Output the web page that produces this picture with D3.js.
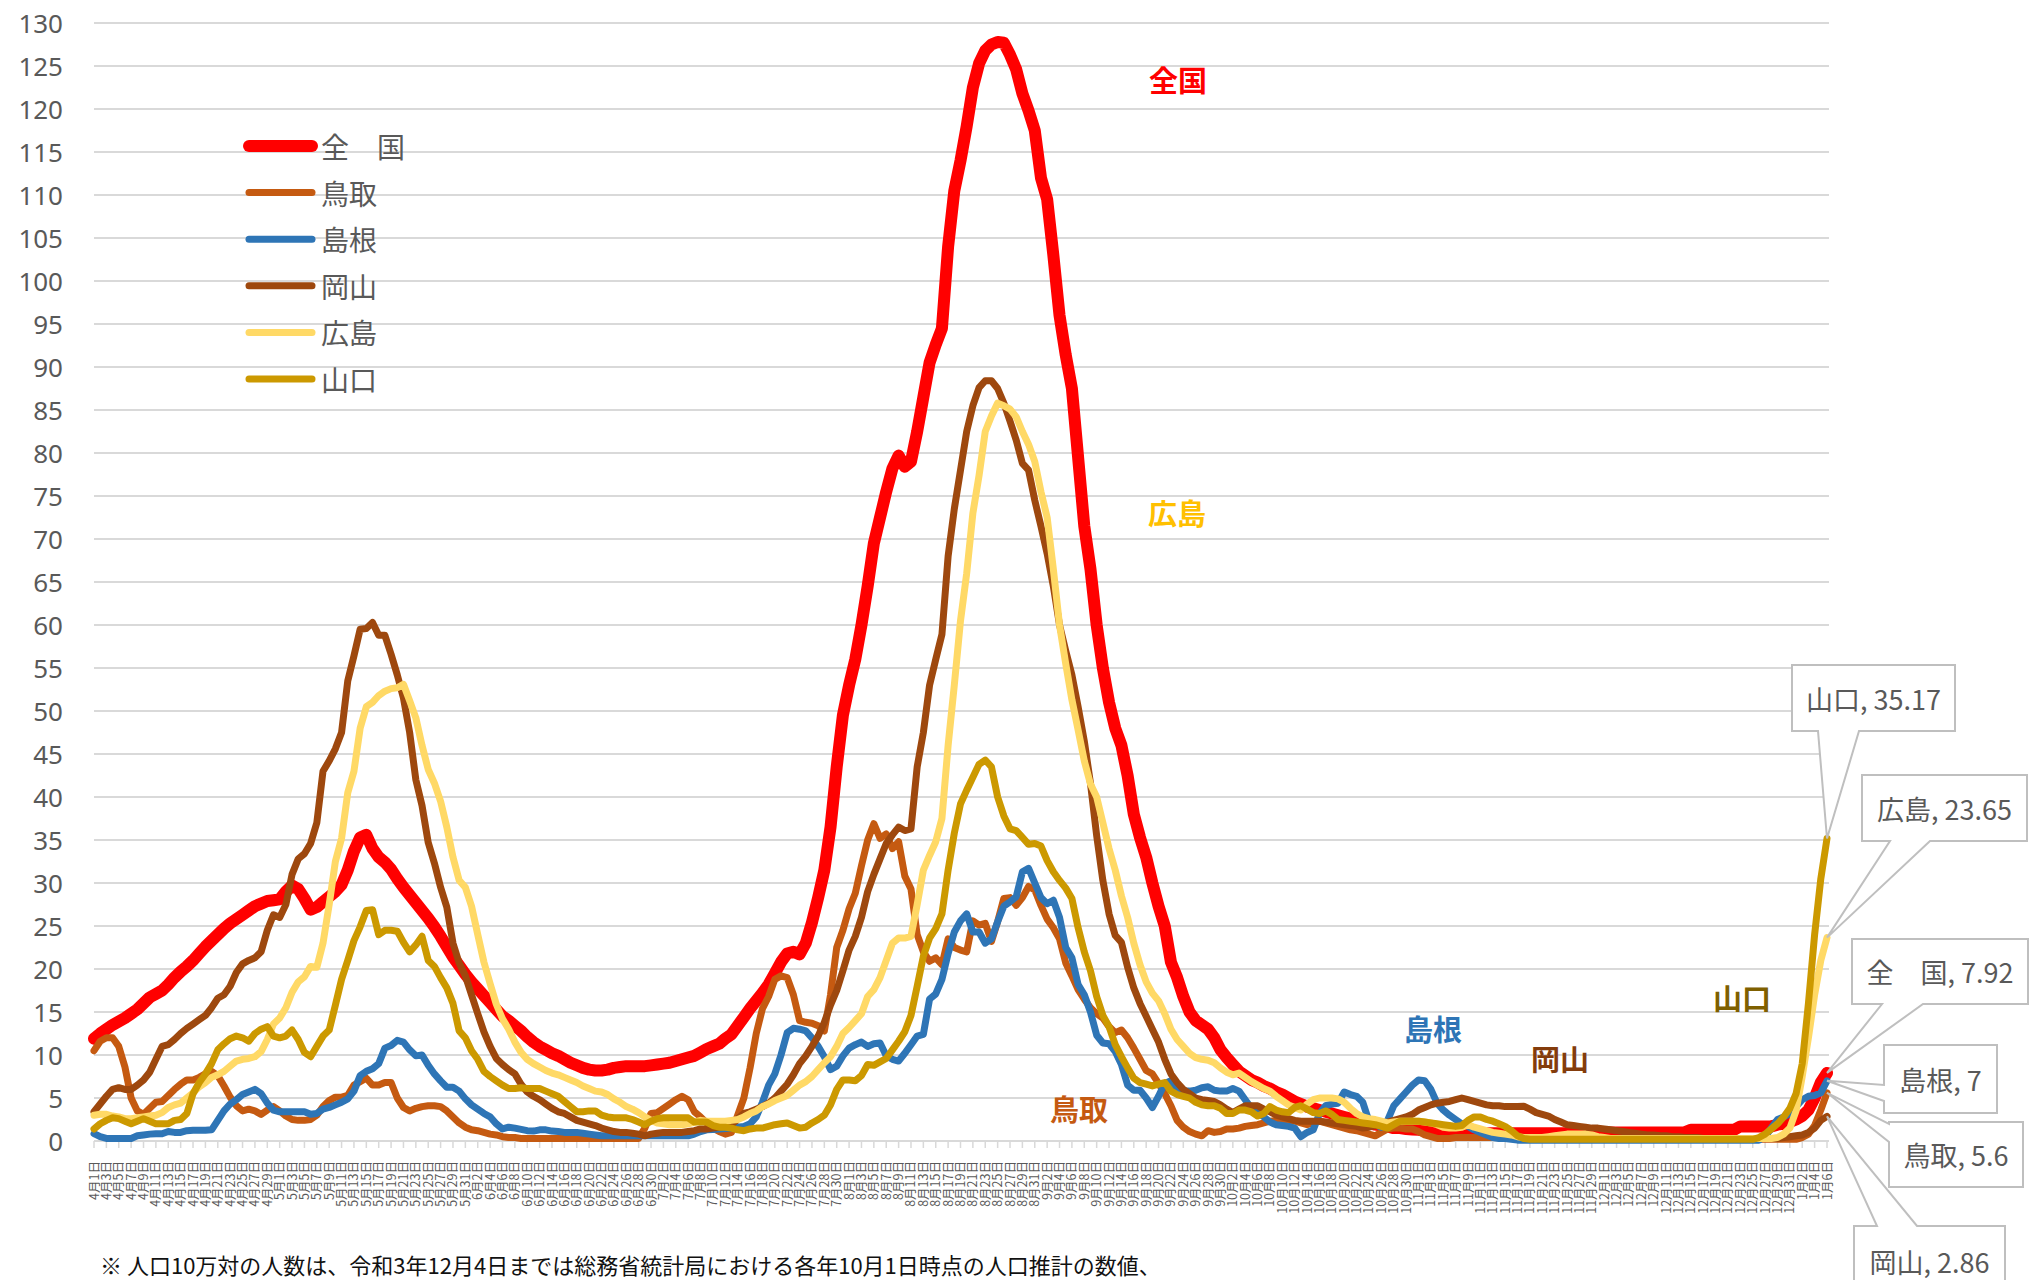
<!DOCTYPE html>
<html><head><meta charset="utf-8">
<script src="https://cdn.jsdelivr.net/npm/d3@7"></script>
<style>body{margin:0;background:#fff;} svg{display:block;}</style>
</head><body>
<svg id="c" width="2036" height="1280"></svg>
<script>
// ---------- data ----------
const months = [4,5,6,7,8,9,10,11,12,1];
const monthDays = [30,31,30,31,31,30,31,30,31,6];
const categories = [];
months.forEach((m,i)=>{ for(let d=1; d<=monthDays[i]; d++) categories.push(m+"月"+d+"日"); });

const yTicks = [0,5,10,15,20,25,30,35,40,45,50,55,60,65,70,75,80,85,90,95,100,105,110,115,120,125,130];

const zenkoku = [
11.9,12.5,13.0,13.5,13.9,14.3,14.8,15.3,16.0,16.7,
17.1,17.5,18.2,19.0,19.7,20.3,21.0,21.8,22.6,23.3,
24.0,24.7,25.3,25.8,26.3,26.8,27.3,27.6,27.9,28.0,
28.1,29.0,29.7,29.3,28.2,26.9,27.2,27.8,28.4,29.0,
29.8,31.5,33.7,35.3,35.6,34.0,33.0,32.4,31.6,30.5,
29.5,28.6,27.7,26.8,25.9,24.9,23.8,22.6,21.4,20.4,
19.4,18.5,17.7,16.9,16.1,15.3,14.5,14.0,13.4,12.8,
12.1,11.5,11.0,10.6,10.2,9.9,9.5,9.1,8.8,8.5,
8.3,8.2,8.2,8.3,8.5,8.6,8.7,8.7,8.7,8.7,
8.8,8.9,9.0,9.1,9.3,9.5,9.7,9.9,10.3,10.7,
11.0,11.3,11.9,12.4,13.4,14.4,15.4,16.3,17.2,18.2,
19.5,20.8,21.8,22.0,21.7,23.0,25.4,28.3,31.5,36.5,
43.5,49.5,53.0,56.0,60.0,64.5,69.5,72.5,75.5,78.2,
79.7,78.4,79.0,82.5,86.5,90.5,92.6,94.5,104.0,110.5,
114.0,118.0,122.5,125.3,126.8,127.5,127.8,127.7,126.3,124.6,
121.8,119.8,117.5,112.0,109.5,103.0,96.0,91.4,87.5,79.5,
71.5,66.5,60.0,55.0,51.0,48.0,46.0,42.5,38.0,35.3,
33.0,30.0,27.3,25.0,20.8,19.0,16.8,15.0,14.0,13.5,
13.0,12.0,10.6,9.7,8.9,8.1,7.6,7.1,6.8,6.4,
6.1,5.7,5.4,5.0,4.6,4.3,4.0,3.8,3.6,3.4,
3.2,3.0,2.8,2.6,2.4,2.2,2.1,1.9,1.8,1.7,
1.5,1.5,1.4,1.35,1.3,1.2,1.1,1.0,1.0,1.0,
0.9,0.9,0.9,0.9,0.9,0.9,0.9,0.9,0.9,0.9,
0.9,0.9,0.9,0.9,0.9,0.9,0.9,0.9,0.9,0.9,
0.9,0.9,0.9,0.9,1.0,1.0,1.0,1.0,1.0,1.0,
1.0,1.0,1.0,1.0,1.0,1.0,1.0,1.0,1.3,1.3,
1.3,1.3,1.3,1.3,1.3,1.3,1.7,1.7,1.7,1.7,
1.7,1.7,1.9,2.0,2.2,2.5,2.9,3.6,5.0,6.8,
7.92];

const tottori = [
10.5,11.6,12.0,12.0,11.0,8.6,5.0,3.5,3.1,3.8,
4.5,4.6,5.3,6.0,6.6,7.1,7.1,7.4,7.8,8.1,
7.6,6.4,5.1,4.1,3.5,3.7,3.5,3.1,3.6,4.0,
3.5,2.9,2.5,2.4,2.4,2.5,3.0,4.0,4.7,5.1,
5.1,5.3,6.5,6.9,7.3,6.5,6.5,6.8,6.8,5.0,
3.9,3.5,3.8,4.0,4.1,4.1,4.0,3.5,2.8,2.1,
1.6,1.3,1.2,1.0,0.8,0.7,0.5,0.4,0.4,0.3,
0.3,0.3,0.3,0.3,0.3,0.3,0.3,0.3,0.3,0.3,
0.3,0.3,0.3,0.3,0.3,0.3,0.3,0.3,0.3,1.5,
3.2,3.3,3.8,4.3,4.8,5.2,4.8,3.4,2.8,2.1,
1.5,1.1,0.8,1.0,3.0,5.0,8.5,12.5,15.4,16.8,
18.8,19.2,19.0,17.0,14.0,13.8,13.7,13.4,12.8,17.0,
22.5,24.5,27.0,28.8,32.0,35.0,36.9,35.2,35.7,34.0,
34.8,30.8,29.3,24.0,22.0,20.9,21.3,20.5,23.5,22.5,
22.2,22.0,25.6,25.1,25.3,23.2,25.5,28.2,28.3,27.4,
28.3,29.6,29.2,27.4,25.8,24.8,23.5,20.7,19.2,17.6,
16.5,15.5,14.8,14.3,13.3,12.6,12.9,12.0,10.8,9.5,
8.2,7.8,6.7,5.5,4.1,2.4,1.6,1.1,0.8,0.6,
1.2,1.0,1.1,1.4,1.4,1.5,1.7,1.8,1.9,2.1,
2.3,2.4,2.5,2.4,2.3,2.1,1.9,2.1,2.3,2.1,
1.9,1.7,1.5,1.3,1.2,1.0,0.8,0.6,1.0,1.4,
1.5,1.5,1.4,1.4,1.1,0.7,0.5,0.3,0.3,0.3,
0.4,0.4,0.4,0.4,0.4,0.4,0.4,0.4,0.4,0.4,
0.2,0.2,0.2,0.2,0.2,0.2,0.2,0.2,0.2,0.2,
0.2,0.2,0.2,0.2,0.2,0.2,0.2,0.2,0.2,0.2,
0.2,0.2,0.2,0.2,0.2,0.2,0.2,0.2,0.2,0.2,
0.2,0.2,0.2,0.2,0.2,0.2,0.2,0.2,0.2,0.2,
0.2,0.2,0.2,0.2,0.2,0.2,0.4,0.8,1.8,3.6,
5.6];

const shimane = [
0.85,0.5,0.3,0.3,0.3,0.3,0.3,0.6,0.7,0.8,
0.85,0.85,1.1,1.0,1.0,1.2,1.25,1.25,1.25,1.3,
2.4,3.5,4.3,4.8,5.4,5.7,6.0,5.5,4.4,3.6,
3.4,3.4,3.4,3.4,3.4,3.1,3.2,3.7,3.9,4.2,
4.5,4.9,5.8,7.6,8.1,8.4,9.0,10.8,11.1,11.7,
11.5,10.6,9.9,10.0,8.8,7.8,7.0,6.25,6.25,5.8,
4.9,4.2,3.7,3.2,2.8,2.0,1.4,1.6,1.5,1.35,
1.2,1.15,1.3,1.3,1.15,1.1,1.0,1.0,1.0,0.9,
0.8,0.7,0.6,0.6,0.6,0.6,0.6,0.6,0.6,0.6,
0.6,0.6,0.6,0.6,0.6,0.6,0.6,0.8,1.1,1.3,
1.35,1.4,1.45,1.5,1.6,1.7,2.0,2.8,4.5,6.5,
7.8,10.0,12.6,13.1,13.0,12.8,12.0,11.0,9.8,8.3,
8.7,9.9,10.8,11.2,11.5,11.0,11.3,11.4,9.9,9.5,
9.3,10.2,11.2,12.2,12.4,16.5,17.1,18.8,21.8,24.3,
25.6,26.4,24.3,24.3,23.0,23.5,25.5,27.3,27.8,28.4,
31.3,31.7,30.0,28.3,27.6,28.0,26.0,22.5,21.3,18.2,
17.0,15.0,12.3,11.4,11.3,10.4,8.9,6.5,5.9,5.9,
5.0,3.9,5.2,6.7,7.0,6.1,5.8,5.8,5.9,6.2,
6.3,5.9,5.8,5.8,6.1,5.8,4.8,3.8,3.3,2.8,
2.2,1.9,1.8,1.7,1.5,0.5,1.0,1.3,3.2,4.1,
4.3,4.4,5.7,5.4,5.2,4.5,2.3,1.9,1.6,2.4,
4.1,4.9,5.7,6.5,7.1,7.0,6.0,4.4,3.6,3.0,
2.5,2.0,1.7,1.3,1.0,0.7,0.4,0.3,0.3,0.2,
0.1,0.1,0.1,0.1,0.1,0.1,0.1,0.1,0.1,0.1,
0.1,0.1,0.1,0.1,0.1,0.1,0.1,0.1,0.1,0.1,
0.1,0.1,0.1,0.1,0.1,0.1,0.1,0.1,0.1,0.1,
0.1,0.1,0.1,0.1,0.1,0.1,0.1,0.1,0.1,0.1,
0.5,1.5,2.5,2.8,3.2,4.0,4.8,5.2,5.3,5.6,
7];

const okayama = [
3.4,4.3,5.2,6.0,6.2,6.0,6.0,6.5,7.1,8.0,
9.5,11.0,11.2,11.8,12.5,13.1,13.6,14.1,14.6,15.5,
16.6,17.0,18.0,19.6,20.6,21.0,21.3,22.0,24.5,26.3,
26.0,27.5,31.0,32.8,33.4,34.6,37.0,43.0,44.2,45.6,
47.5,53.5,56.4,59.5,59.6,60.3,58.8,58.8,56.6,54.2,
51.5,47.5,42.0,39.0,34.7,32.3,29.5,27.2,23.0,20.7,
19.2,17.0,14.8,12.7,11.0,9.6,8.9,8.3,7.8,6.6,
5.7,5.2,4.8,4.3,3.8,3.4,3.2,2.8,2.4,2.2,
2.0,1.8,1.5,1.3,1.1,1.0,1.0,0.9,0.8,0.6,
0.8,0.9,1.0,1.0,1.0,1.0,1.1,1.2,1.4,1.4,
1.5,1.6,1.7,1.9,2.6,3.2,3.4,3.7,4.0,4.4,
5.0,5.8,6.6,7.7,9.0,9.9,11.0,12.2,13.8,15.8,
17.5,19.8,22.2,23.8,26.0,29.0,31.0,32.8,34.6,35.6,
36.5,36.1,36.3,43.5,47.5,53.0,56.0,58.9,68.0,73.5,
78.0,82.5,85.5,87.6,88.4,88.4,87.5,85.8,83.7,81.5,
78.8,78.0,74.5,71.5,68.3,64.5,60.0,57.0,54.2,50.5,
46.5,41.6,35.5,30.3,26.4,23.9,23.1,20.2,17.8,16.0,
14.5,13.0,11.5,9.5,7.8,6.8,6.0,5.5,5.0,4.8,
4.7,4.6,4.2,3.7,3.3,3.7,4.1,4.1,4.1,3.7,
3.4,3.0,2.8,2.6,2.4,2.3,2.3,2.3,2.3,2.2,
2.1,2.0,1.9,1.8,1.7,1.5,1.6,1.8,1.9,2.2,
2.4,2.6,2.8,3.1,3.6,3.9,4.2,4.4,4.5,4.6,
4.8,5.0,4.8,4.6,4.4,4.2,4.1,4.1,4.0,4.0,
4.0,4.05,3.7,3.3,3.1,2.9,2.5,2.2,1.9,1.8,
1.7,1.6,1.5,1.5,1.4,1.3,1.2,1.1,1.0,0.9,
0.8,0.7,0.7,0.6,0.6,0.5,0.5,0.4,0.4,0.4,
0.3,0.3,0.3,0.3,0.3,0.3,0.3,0.3,0.3,0.3,
0.3,0.3,0.3,0.4,0.5,0.6,0.7,1.0,1.5,2.4,
2.86];

const hiroshima = [
3.0,3.1,3.1,2.9,2.8,2.6,2.6,2.7,2.8,2.9,
3.0,3.3,3.9,4.2,4.4,5.0,5.6,6.3,6.8,7.4,
7.7,8.1,8.7,9.3,9.5,9.6,9.8,10.4,11.8,13.6,
14.3,15.5,17.3,18.5,19.1,20.3,20.2,23.0,27.5,32.5,
35.2,40.5,43.0,48.0,50.5,51.0,51.8,52.3,52.6,52.7,
53.1,51.2,49.2,46.0,43.2,41.6,39.5,36.5,33.0,30.3,
29.5,27.3,24.0,20.8,18.3,15.9,14.2,13.0,11.5,10.3,
9.5,9.0,8.6,8.2,7.9,7.7,7.4,7.1,6.8,6.4,
6.1,5.8,5.7,5.4,4.9,4.5,4.0,3.7,3.3,2.8,
2.4,2.1,2.0,1.9,1.9,1.9,2.0,2.2,2.4,2.3,
2.3,2.3,2.3,2.4,2.5,2.8,3.2,3.5,4.0,4.3,
4.7,5.0,5.3,5.9,6.5,6.9,7.5,8.3,9.1,9.8,
11.0,12.5,13.2,14.0,14.8,16.8,17.6,19.0,21.0,23.0,
23.6,23.6,23.8,27.5,31.5,33.2,34.8,37.5,46.0,53.0,
60.5,66.0,73.0,77.4,82.5,84.3,85.8,85.5,85.1,84.2,
82.5,81.0,79.0,75.5,72.5,66.5,60.0,55.5,51.3,47.8,
44.2,41.5,40.0,37.0,34.0,31.5,28.5,26.0,23.0,20.5,
18.5,17.2,16.3,14.8,13.0,11.8,11.0,10.2,9.7,9.5,
9.4,9.1,8.5,8.0,7.7,7.9,7.4,6.9,6.5,6.1,
5.8,5.2,4.7,4.2,3.9,3.6,4.3,4.8,5.0,5.0,
5.0,4.9,4.5,3.8,3.2,2.8,2.6,2.5,2.3,2.1,
2.2,2.3,2.3,2.3,2.3,2.2,2.1,1.9,1.6,1.5,
1.5,1.6,1.9,1.6,1.4,1.2,1.0,0.9,0.8,0.7,
0.5,0.4,0.4,0.4,0.4,0.5,0.6,0.7,0.8,0.8,
0.8,0.8,0.7,0.5,0.4,0.3,0.3,0.3,0.3,0.3,
0.3,0.3,0.3,0.3,0.3,0.3,0.3,0.3,0.3,0.3,
0.3,0.3,0.3,0.3,0.3,0.3,0.3,0.3,0.3,0.3,
0.3,0.3,0.4,0.8,1.5,3.5,7.5,12.0,17.0,21.0,
23.65];

const yamaguchi = [
1.4,2.0,2.4,2.7,2.6,2.3,2.0,2.3,2.6,2.3,
2.0,2.0,2.0,2.4,2.5,3.2,5.5,6.8,7.8,9.0,
10.6,11.3,11.9,12.2,12.0,11.6,12.5,13.0,13.3,12.2,
12.0,12.2,12.9,11.8,10.3,9.8,11.0,12.2,12.9,15.8,
18.8,21.0,23.3,24.9,26.8,26.9,24.0,24.5,24.5,24.4,
23.1,22.0,22.8,23.8,21.0,20.3,19.0,17.8,16.0,12.8,
12.0,10.5,9.5,8.1,7.5,7.0,6.5,6.1,6.1,6.2,
6.1,6.1,6.1,5.8,5.5,5.2,4.6,4.0,3.4,3.4,
3.5,3.5,3.0,2.8,2.7,2.7,2.7,2.5,2.2,1.9,
2.3,2.6,2.7,2.7,2.7,2.7,2.7,2.2,2.2,2.2,
1.8,1.6,1.6,1.5,1.3,1.2,1.4,1.5,1.5,1.7,
1.9,2.0,2.1,1.8,1.5,1.6,2.1,2.5,3.0,4.2,
6.0,7.1,7.1,7.0,7.6,8.9,8.8,9.2,9.6,10.6,
11.6,12.7,14.6,18.0,21.5,23.6,24.7,26.4,31.5,35.8,
39.2,40.8,42.3,43.8,44.3,43.5,40.0,37.8,36.3,36.1,
35.3,34.5,34.6,34.3,32.6,31.3,30.3,29.4,28.2,24.8,
22.0,19.8,16.8,14.6,13.3,11.2,9.8,8.5,7.3,6.8,
6.6,6.4,6.6,6.8,5.8,5.4,5.2,5.0,4.5,4.2,
4.1,4.1,3.8,3.2,3.2,3.6,3.6,3.4,2.9,3.2,
4.0,3.6,3.4,3.3,3.9,4.1,3.7,3.3,3.2,3.5,
3.1,2.5,2.4,2.3,2.2,2.1,2.0,1.9,1.7,1.5,
1.9,2.3,2.3,2.3,2.3,2.2,2.1,2.0,1.9,1.8,
1.7,1.8,2.4,2.8,2.8,2.5,2.3,2.0,1.7,1.2,
0.6,0.3,0.2,0.2,0.2,0.2,0.2,0.2,0.2,0.2,
0.2,0.2,0.2,0.2,0.2,0.2,0.2,0.2,0.2,0.2,
0.2,0.2,0.2,0.2,0.2,0.2,0.2,0.2,0.2,0.2,
0.2,0.2,0.2,0.2,0.2,0.2,0.2,0.2,0.2,0.4,
0.8,1.4,2.0,2.8,3.8,5.5,9.0,16.0,24.0,30.5,
35.17];

const seriesNames = ["全　国","鳥取","島根","岡山","広島","山口"];
const seriesValues = [zenkoku, tottori, shimane, okayama, hiroshima, yamaguchi];
const annotationNames = ["全国","鳥取","島根","岡山","広島","山口"];
const footnote = "※ 人口10万対の人数は、令和3年12月4日までは総務省統計局における各年10月1日時点の人口推計の数値、";

// ---------- styles / layout ----------
const seriesColors = ["#FF0000","#C55A11","#2E75B6","#9E480E","#FFD966","#CC9900"];
const seriesWidths = [12,7,7,7,7,7];
const annotationColors = ["#FF0000","#C55A11","#2E75B6","#843C0C","#FFC000","#7F6000"];
const annotationPos = [[1178,79],[1079,1108],[1433,1028],[1560,1058],[1177,512],[1742,997]];
const callouts = [
  {box:[1852,939,2028,1004], edge:"bottom", base:[1882,1923]},
  {box:[1889,1122,2023,1187], edge:"left", base:[1124,1142]},
  {box:[1884,1045,1997,1113], edge:"left", base:[1085,1101]},
  {box:[1854,1226,2005,1310], edge:"top", base:[1877,1917]},
  {box:[1862,775,2027,841], edge:"bottom", base:[1890,1930]},
  {box:[1792,665,1955,731], edge:"bottom", base:[1818,1859]}
];

const svg = d3.select("#c");
const x = d3.scalePoint().domain(categories).range([94,1827]);
const y = d3.scaleLinear().domain([0,130]).range([1141,23]);
const gridRight = 1829;
const jp = "'Noto Sans CJK JP', 'Noto Sans', sans-serif";

// gridlines
svg.append("g").selectAll("line").data(yTicks).join("line")
  .attr("x1",94).attr("x2",gridRight)
  .attr("y1",d=>y(d)).attr("y2",d=>y(d))
  .attr("stroke","#D9D9D9").attr("stroke-width",2);

// y labels
svg.append("g").selectAll("text").data(yTicks).join("text")
  .attr("x",63).attr("y",d=>y(d)).attr("text-anchor","end")
  .attr("dominant-baseline","central")
  .attr("font-family","'Noto Sans', sans-serif").attr("font-size",26)
  .attr("fill","#595959").text(d=>d);

// x ticks + labels (every 2nd category)
const tickCats = categories.filter((c,i)=>i%2===0);
svg.append("g").selectAll("line").data(tickCats).join("line")
  .attr("x1",d=>x(d)).attr("x2",d=>x(d)).attr("y1",1141).attr("y2",1148)
  .attr("stroke","#D9D9D9").attr("stroke-width",1.5);
svg.append("g").selectAll("text").data(tickCats).join("text")
  .attr("transform",d=>`translate(${x(d)+4.5},1161) rotate(-90)`)
  .attr("text-anchor","end")
  .attr("font-family",jp).attr("font-size",12.5)
  .attr("fill","#595959").text(d=>d);

// lines
const line = d3.line().x((d,i)=>x(categories[i])).y(d=>y(d));
const gLines = svg.append("g");
seriesValues.forEach((vals,k)=>{
  gLines.append("path").attr("d",line(vals)).attr("fill","none")
    .attr("stroke",seriesColors[k]).attr("stroke-width",seriesWidths[k])
    .attr("stroke-linejoin","round").attr("stroke-linecap","round");
});

// legend
const legY0 = 146, legDY = 46.6;
seriesNames.forEach((n,k)=>{
  const yy = legY0 + k*legDY;
  svg.append("line").attr("x1",249).attr("x2",312).attr("y1",yy).attr("y2",yy)
    .attr("stroke",seriesColors[k]).attr("stroke-width",seriesWidths[k]).attr("stroke-linecap","round");
  svg.append("text").attr("x",321).attr("y",yy).attr("dominant-baseline","central")
    .attr("font-family",jp).attr("font-size",28).attr("fill","#595959").text(n);
});

// bold annotations
annotationNames.forEach((n,k)=>{
  svg.append("text").attr("x",annotationPos[k][0]).attr("y",annotationPos[k][1])
    .attr("text-anchor","middle").attr("dominant-baseline","central")
    .attr("font-family",jp).attr("font-weight",700).attr("font-size",29)
    .attr("fill",annotationColors[k]).text(n);
});

// callouts
function wedgePath(c, tx, ty){
  const [x0,y0,x1,y1] = c.box, [b1,b2] = c.base;
  if(c.edge==="bottom") return `M${x0},${y0}H${x1}V${y1}H${b2}L${tx},${ty}L${b1},${y1}H${x0}Z`;
  if(c.edge==="left") return `M${x0},${y0}H${x1}V${y1}H${x0}V${b2}L${tx},${ty}L${x0},${b1}Z`;
  return `M${x0},${y0}H${b1}L${tx},${ty}L${b2},${y0}H${x1}V${y1}H${x0}Z`;
}
seriesValues.forEach((vals,k)=>{
  const last = vals[vals.length-1];
  const tx = x(categories[vals.length-1]), ty = y(last);
  const c = callouts[k];
  svg.append("path").attr("d",wedgePath(c,tx,ty)).attr("fill","#fff")
    .attr("stroke","#BFBFBF").attr("stroke-width",2);
  svg.append("text").attr("x",(c.box[0]+c.box[2])/2).attr("y",(c.box[1]+Math.min(c.box[3],c.box[1]+70))/2)
    .attr("text-anchor","middle").attr("dominant-baseline","central")
    .attr("font-family",jp).attr("font-size",27).attr("fill","#595959")
    .text(seriesNames[k]+", "+last);
});

// footnote
svg.append("text").attr("x",100).attr("y",1274)
  .attr("font-family",jp).attr("font-size",22).attr("fill","#111").text(footnote);
</script>
</body></html>
